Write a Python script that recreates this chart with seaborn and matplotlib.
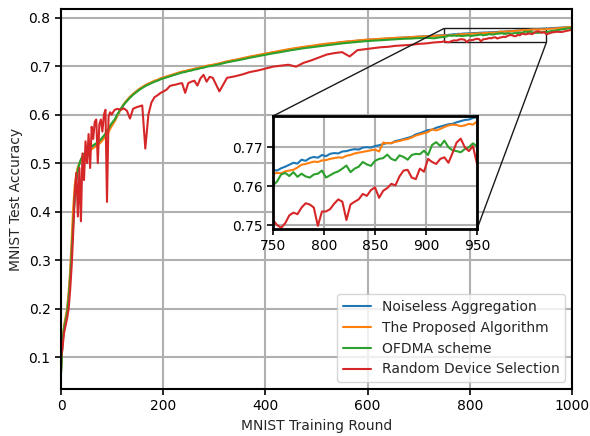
import numpy as np
import pandas as pd
import matplotlib
matplotlib.use('agg')
import matplotlib.pyplot as plt
import seaborn as sns
from mpl_toolkits.axes_grid1.inset_locator import mark_inset

# training rounds where the curves were sampled (denser where the curves move fast / in the zoom window)
rounds = (list(range(0, 100, 3)) + list(range(105, 300, 6)) + list(range(310, 746, 15))
          + list(range(750, 951, 4)) + list(range(960, 1001, 10)))

noiseless = [
    # 0 - 99
    0.070, 0.130, 0.160, 0.178, 0.195, 0.225, 0.265, 0.325, 0.385, 0.435, 0.468, 0.487, 0.498, 0.506,
    0.512, 0.517, 0.521, 0.525, 0.528, 0.531, 0.533, 0.535, 0.537, 0.539, 0.541, 0.544, 0.547, 0.551,
    0.555, 0.559, 0.563, 0.568, 0.574, 0.579,
    # 105 - 297
    0.588, 0.600, 0.611, 0.621, 0.629, 0.636, 0.642, 0.647, 0.652, 0.656, 0.660, 0.663, 0.666, 0.669,
    0.671, 0.674, 0.676, 0.678, 0.680, 0.682, 0.684, 0.686, 0.688, 0.689, 0.691, 0.692, 0.694, 0.695,
    0.697, 0.698, 0.700, 0.701, 0.702,
    # 310 - 745
    0.705, 0.709, 0.712, 0.7155, 0.719, 0.722, 0.725, 0.728, 0.731, 0.734, 0.7365, 0.739, 0.741, 0.7435,
    0.7455, 0.7475, 0.7495, 0.751, 0.7525, 0.754, 0.755, 0.756, 0.757, 0.758, 0.759, 0.760, 0.761,
    0.762, 0.763, 0.764,
    # 750 - 950
    0.7642, 0.7640, 0.7646, 0.7650, 0.7655, 0.7660, 0.7658, 0.7668, 0.7665, 0.7672, 0.7675, 0.7673,
    0.7680, 0.7677, 0.7683, 0.7685, 0.7684, 0.7689, 0.7690, 0.7693, 0.7695, 0.7694, 0.7699, 0.7700,
    0.7699, 0.7703, 0.7705, 0.7708, 0.7711, 0.7710, 0.7716, 0.7718, 0.7721, 0.7724, 0.7727, 0.7733,
    0.7736, 0.7740, 0.7744, 0.7745, 0.7750, 0.7753, 0.7756, 0.7759, 0.7760, 0.7764, 0.7767, 0.7770,
    0.7771, 0.7775, 0.7777,
    # 960 - 1000
    0.7785, 0.7790, 0.7797, 0.7803, 0.7810,
]

proposed = [
    0.070, 0.135, 0.165, 0.182, 0.200, 0.235, 0.280, 0.345, 0.410, 0.455, 0.478, 0.492, 0.500, 0.505,
    0.510, 0.514, 0.518, 0.521, 0.524, 0.527, 0.529, 0.531, 0.533, 0.535, 0.537, 0.540, 0.543, 0.547,
    0.551, 0.555, 0.559, 0.564, 0.570, 0.576,
    0.586, 0.599, 0.611, 0.622, 0.630, 0.637, 0.643, 0.648, 0.653, 0.657, 0.661, 0.664, 0.667, 0.670,
    0.672, 0.675, 0.677, 0.679, 0.681, 0.683, 0.685, 0.687, 0.689, 0.690, 0.692, 0.693, 0.695, 0.696,
    0.698, 0.699, 0.701, 0.702, 0.703,
    0.706, 0.710, 0.713, 0.7165, 0.720, 0.723, 0.726, 0.729, 0.732, 0.735, 0.7375, 0.740, 0.742, 0.7445,
    0.7465, 0.748, 0.750, 0.7515, 0.753, 0.7545, 0.7555, 0.7565, 0.7575, 0.7585, 0.759, 0.760, 0.761,
    0.7615, 0.7625, 0.7632,
    0.7632, 0.7634, 0.7633, 0.7638, 0.7640, 0.7642, 0.7648, 0.7655, 0.7657, 0.7660, 0.7663, 0.7662,
    0.7666, 0.7667, 0.7670, 0.7672, 0.7674, 0.7673, 0.7678, 0.7680, 0.7684, 0.7686, 0.7688, 0.7690,
    0.7692, 0.7694, 0.7689, 0.7712, 0.7710, 0.7711, 0.7714, 0.7716, 0.7719, 0.7721, 0.7725, 0.7730,
    0.7733, 0.7736, 0.7739, 0.7746, 0.7743, 0.7747, 0.7752, 0.7756, 0.7758, 0.7757, 0.7754, 0.7756,
    0.7760, 0.7758, 0.7766,
    0.7772, 0.7780, 0.7790, 0.7798, 0.7810,
]

ofdma = [
    0.065, 0.135, 0.160, 0.175, 0.192, 0.222, 0.262, 0.320, 0.380, 0.432, 0.466, 0.486, 0.499, 0.508,
    0.514, 0.519, 0.523, 0.527, 0.530, 0.533, 0.535, 0.537, 0.539, 0.541, 0.543, 0.546, 0.549, 0.553,
    0.557, 0.561, 0.566, 0.571, 0.577, 0.582,
    0.590, 0.602, 0.612, 0.621, 0.628, 0.635, 0.641, 0.646, 0.651, 0.655, 0.659, 0.662, 0.665, 0.668,
    0.670, 0.673, 0.675, 0.677, 0.679, 0.681, 0.683, 0.685, 0.687, 0.688, 0.690, 0.691, 0.693, 0.694,
    0.696, 0.697, 0.699, 0.700, 0.701,
    0.704, 0.708, 0.711, 0.714, 0.7175, 0.7205, 0.7235, 0.7265, 0.729, 0.732, 0.7345, 0.737, 0.739,
    0.741, 0.743, 0.745, 0.747, 0.7485, 0.750, 0.7515, 0.7525, 0.7535, 0.7545, 0.7555, 0.7565, 0.757,
    0.758, 0.7585, 0.7575, 0.760,
    0.7602, 0.7612, 0.7630, 0.7634, 0.7626, 0.7636, 0.7624, 0.7632, 0.7625, 0.7622, 0.7630, 0.7632,
    0.7640, 0.7622, 0.7628, 0.7634, 0.7638, 0.7645, 0.7653, 0.7636, 0.7645, 0.7650, 0.7662, 0.7656,
    0.7652, 0.7665, 0.7670, 0.7672, 0.7681, 0.7670, 0.7666, 0.7679, 0.7675, 0.7668, 0.7680, 0.7683,
    0.7682, 0.7691, 0.7680, 0.7706, 0.7713, 0.7703, 0.7717, 0.7700, 0.7692, 0.7690, 0.7687, 0.7695,
    0.7700, 0.7710, 0.7702,
    0.7725, 0.7740, 0.7760, 0.7775, 0.7790,
]

random_sel = [
    0.097, 0.120, 0.150, 0.165, 0.180, 0.200, 0.240, 0.290, 0.360, 0.440, 0.480, 0.390, 0.490, 0.380,
    0.520, 0.465, 0.545, 0.500, 0.560, 0.490, 0.575, 0.550, 0.585, 0.590, 0.500, 0.580, 0.590, 0.565,
    0.600, 0.610, 0.420, 0.595, 0.605, 0.600,
    0.610, 0.612, 0.610, 0.613, 0.608, 0.592, 0.612, 0.615, 0.617, 0.619, 0.530, 0.600, 0.625, 0.636,
    0.640, 0.645, 0.648, 0.652, 0.659, 0.661, 0.662, 0.664, 0.665, 0.645, 0.665, 0.668, 0.670, 0.660,
    0.675, 0.682, 0.668, 0.678, 0.676,
    0.648, 0.676, 0.679, 0.683, 0.688, 0.691, 0.695, 0.699, 0.701, 0.703, 0.699, 0.707, 0.712, 0.718,
    0.724, 0.727, 0.729, 0.720, 0.733, 0.735, 0.737, 0.739, 0.740, 0.742, 0.743, 0.744, 0.746, 0.747,
    0.749, 0.750,
    0.7513, 0.7500, 0.7493, 0.7505, 0.7525, 0.7532, 0.7528, 0.7545, 0.7556, 0.7553, 0.7545, 0.7498,
    0.7535, 0.7535, 0.7541, 0.7555, 0.7566, 0.7560, 0.7513, 0.7553, 0.7560, 0.7566, 0.7580, 0.7575,
    0.7590, 0.7597, 0.7570, 0.7588, 0.7595, 0.7606, 0.7602, 0.7625, 0.7640, 0.7642, 0.7622, 0.7618,
    0.7645, 0.7637, 0.7670, 0.7662, 0.7657, 0.7670, 0.7674, 0.7660, 0.7685, 0.7712, 0.7722, 0.7700,
    0.7690, 0.7703, 0.7657,
    0.7695, 0.7710, 0.7705, 0.7730, 0.7750,
]

methods = ["Noiseless Aggregation", "The Proposed Algorithm", "OFDMA scheme", "Random Device Selection"]
colors = ["#1f77b4", "#ff7f0e", "#2ca02c", "#d62728"]

df = pd.DataFrame({
    "round": rounds * 4,
    "acc": noiseless + proposed + ofdma + random_sel,
    "method": sum([[m] * len(rounds) for m in methods], []),
})

sns.set_style("ticks")
plt.rcParams['font.family'] = ['DejaVu Sans']
plt.rcParams['font.size'] = 10
plt.rcParams['axes.linewidth'] = 1.5

fig = plt.figure(figsize=(5.9, 4.36), dpi=100)
ax = fig.add_axes([0.1034, 0.1078, 0.866, 0.8716])

sns.lineplot(data=df, x="round", y="acc", hue="method", hue_order=methods, palette=colors,
             estimator=None, linewidth=1.5, ax=ax)
ax.set_xlim(0, 1000)
ax.set_ylim(0.034, 0.818)
ax.set_xticks([0, 200, 400, 600, 800, 1000])
ax.set_yticks([0.1, 0.2, 0.3, 0.4, 0.5, 0.6, 0.7, 0.8])
ax.grid(True, color="#b0b0b0", linewidth=1.5)
ax.set_axisbelow(True)
ax.set_xlabel("MNIST Training Round")
ax.set_ylabel("MNIST Test Accuracy")
ax.tick_params(direction="out", width=1.2, length=4, colors="black")
for s in ax.spines.values():
    s.set_color("black")

handles, labels = ax.get_legend_handles_labels()
ax.legend(handles, labels, loc="lower right", fontsize=10, framealpha=0.8)

# zoomed inset
axins = fig.add_axes([0.4627, 0.4748, 0.3458, 0.259])
sns.lineplot(data=df, x="round", y="acc", hue="method", hue_order=methods, palette=colors,
             estimator=None, linewidth=1.5, ax=axins, legend=False)
axins.set_xlim(750, 950)
axins.set_ylim(0.749, 0.778)
axins.set_xticks([750, 800, 850, 900, 950])
axins.set_yticks([0.75, 0.76, 0.77])
axins.grid(True, color="#b0b0b0", linewidth=1.5)
axins.set_axisbelow(True)
axins.set_xlabel("")
axins.set_ylabel("")
axins.tick_params(direction="out", width=1.2, length=4, colors="black")
for s in axins.spines.values():
    s.set_color("black")
    s.set_linewidth(2)

mark_inset(ax, axins, loc1=2, loc2=4, fc="none", ec="0.1", lw=1)

fig.savefig("out.png", dpi=100)
